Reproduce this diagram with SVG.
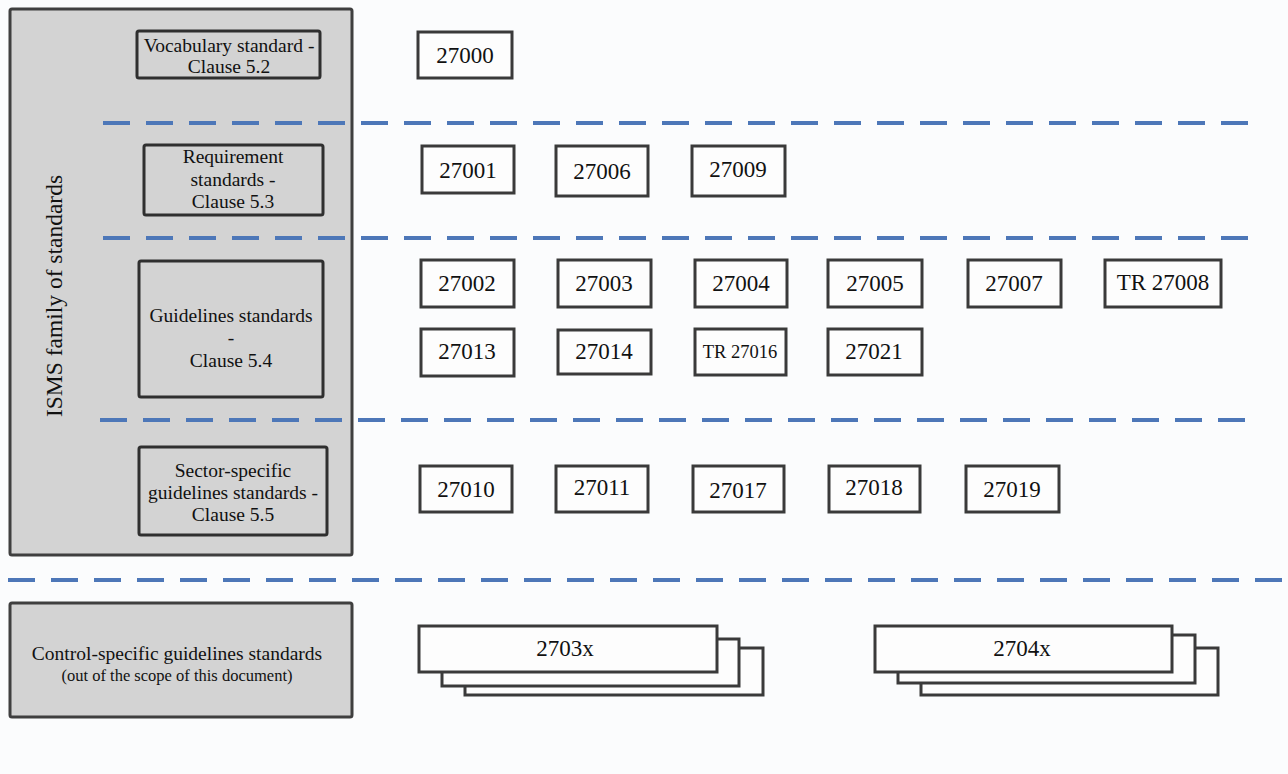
<svg xmlns="http://www.w3.org/2000/svg" width="1288" height="774" viewBox="0 0 1288 774">
<style>
.bg{fill:#fbfcfd}
.panel{fill:#d3d3d3;stroke:#3f3f3f;stroke-width:3}
.cat{fill:#d3d3d3;stroke:#2f2f2f;stroke-width:3}
.num{fill:#fdfdfd;stroke:#3a3a3a;stroke-width:3}
.t{font-family:"Liberation Serif","Times New Roman",serif;fill:#111;text-anchor:middle}
.n{font-size:23px}
.l{font-size:19.5px}
.s{font-size:16.5px}
.dash{stroke:#4d77b8;stroke-width:4;stroke-dasharray:27 16;fill:none}
</style>
<rect class="bg" x="0" y="0" width="1288" height="774"/>

<g id="isms-panel">
<rect class="panel" x="10" y="9" width="342" height="546" rx="2"/>
<text class="t" style="font-size:23.5px" transform="translate(62,296) rotate(-90)">ISMS family of standards</text>
</g>

<g id="vocabulary">
<rect class="cat" x="137" y="31" width="183" height="47" rx="2"/>
<text class="t l" x="229" y="52">Vocabulary standard -</text>
<text class="t l" x="229" y="73">Clause 5.2</text>
</g>
<g id="requirement">
<rect class="cat" x="144" y="145" width="179" height="70" rx="2"/>
<text class="t l" x="233" y="163">Requirement</text>
<text class="t l" x="233" y="186">standards -</text>
<text class="t l" x="233" y="208">Clause 5.3</text>
</g>
<g id="guidelines">
<rect class="cat" x="139" y="261" width="184" height="136" rx="2"/>
<text class="t l" x="231" y="322">Guidelines standards</text>
<text class="t l" x="231" y="344">-</text>
<text class="t l" x="231" y="367">Clause 5.4</text>
</g>
<g id="sector">
<rect class="cat" x="139" y="447" width="188" height="88" rx="2"/>
<text class="t l" x="233" y="477">Sector-specific</text>
<text class="t l" x="233" y="499">guidelines standards -</text>
<text class="t l" x="233" y="521">Clause 5.5</text>
</g>
<g id="control">
<rect class="panel" x="10" y="603" width="342" height="114" rx="2"/>
<text class="t" style="font-size:19.5px" x="177" y="660">Control-specific guidelines standards</text>
<text class="t s" x="177" y="681">(out of the scope of this document)</text>
</g>

<g id="separators">
<line class="dash" x1="103" y1="123" x2="1260" y2="123"/>
<line class="dash" x1="103" y1="238" x2="1258" y2="238"/>
<line class="dash" x1="100" y1="420" x2="1258" y2="420"/>
<line class="dash" x1="8" y1="580" x2="1288" y2="580"/>
</g>

<g id="n27000"><rect class="num" x="418" y="32" width="94" height="46"/><text class="t n" x="465" y="63">27000</text></g>

<g id="n27001"><rect class="num" x="422" y="146" width="92" height="47"/><text class="t n" x="468" y="178">27001</text></g>
<g id="n27006"><rect class="num" x="556" y="146" width="92" height="50"/><text class="t n" x="602" y="179">27006</text></g>
<g id="n27009"><rect class="num" x="692" y="146" width="93" height="50"/><text class="t n" x="738" y="177">27009</text></g>

<g id="n27002"><rect class="num" x="421" y="260" width="93" height="47"/><text class="t n" x="467" y="291">27002</text></g>
<g id="n27003"><rect class="num" x="558" y="260" width="93" height="47"/><text class="t n" x="604" y="291">27003</text></g>
<g id="n27004"><rect class="num" x="695" y="260" width="92" height="47"/><text class="t n" x="741" y="291">27004</text></g>
<g id="n27005"><rect class="num" x="828" y="260" width="94" height="47"/><text class="t n" x="875" y="291">27005</text></g>
<g id="n27007"><rect class="num" x="968" y="260" width="93" height="47"/><text class="t n" x="1014" y="291">27007</text></g>
<g id="nTR27008"><rect class="num" x="1105" y="260" width="116" height="47"/><text class="t n" x="1163" y="290">TR 27008</text></g>

<g id="n27013"><rect class="num" x="421" y="329" width="93" height="47"/><text class="t n" x="467" y="359">27013</text></g>
<g id="n27014"><rect class="num" x="558" y="330" width="93" height="44"/><text class="t n" x="604" y="359">27014</text></g>
<g id="nTR27016"><rect class="num" x="695" y="329" width="91" height="46"/><text class="t" style="font-size:18.5px" x="740" y="358">TR 27016</text></g>
<g id="n27021"><rect class="num" x="828" y="329" width="94" height="46"/><text class="t n" x="874" y="359">27021</text></g>

<g id="n27010"><rect class="num" x="420" y="466" width="92" height="46"/><text class="t n" x="466" y="497">27010</text></g>
<g id="n27011"><rect class="num" x="556" y="466" width="92" height="46"/><text class="t n" x="602" y="495">27011</text></g>
<g id="n27017"><rect class="num" x="693" y="466" width="91" height="46"/><text class="t n" x="738" y="498">27017</text></g>
<g id="n27018"><rect class="num" x="829" y="466" width="91" height="46"/><text class="t n" x="874" y="495">27018</text></g>
<g id="n27019"><rect class="num" x="966" y="466" width="93" height="46"/><text class="t n" x="1012" y="497">27019</text></g>

<g id="n2703x">
<rect class="num" x="465" y="648" width="298" height="47"/>
<rect class="num" x="442" y="639" width="297" height="47"/>
<rect class="num" x="419" y="626" width="298" height="46"/>
<text class="t n" x="565" y="656">2703x</text>
</g>
<g id="n2704x">
<rect class="num" x="921" y="648" width="297" height="47"/>
<rect class="num" x="898" y="635" width="297" height="48"/>
<rect class="num" x="875" y="626" width="297" height="46"/>
<text class="t n" x="1022" y="656">2704x</text>
</g>
</svg>
